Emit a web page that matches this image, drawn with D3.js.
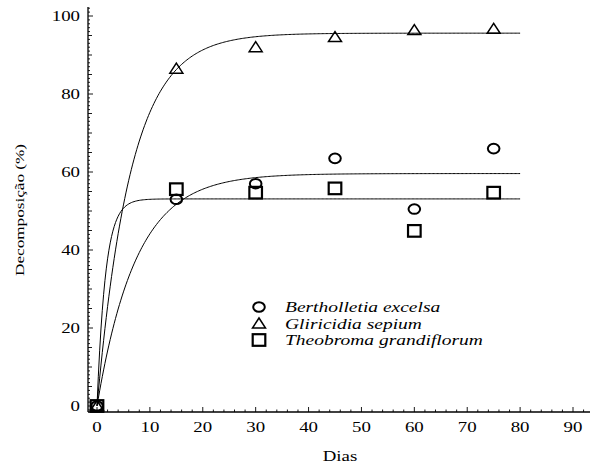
<!DOCTYPE html>
<html><head><meta charset="utf-8">
<script src="https://cdn.jsdelivr.net/npm/d3@7"></script>
<style>body{margin:0;background:#fff}svg{display:block}</style>
</head><body><svg id="c" width="590" height="466"></svg>
<script>
const days = [0, 15, 30, 45, 60, 75];
const bertholletia = [0, 53, 57, 63.5, 50.5, 66];
const gliricidia = [0, 86.5, 92, 94.6, 96.4, 96.7];
const theobroma = [0, 55.6, 54.7, 55.8, 44.9, 54.7];
// fitted model parameters (asymptote, rate)
const fitAsym = [59.6, 95.6, 53.1];
const fitRate = [0.135, 0.155, 0.62];
const seriesNames = ["Bertholletia excelsa", "Gliricidia sepium", "Theobroma grandiflorum"];
const xTicks = [0,10,20,30,40,50,60,70,80,90];
const yTicks = [0,20,40,60,80,100];

const FONT = "'Liberation Serif', 'Times New Roman', serif";
const svg = d3.select("#c");
const x = d3.scaleLinear().domain([0, 90]).range([97, 573]);
const y = d3.scaleLinear().domain([0, 100]).range([406, 16]);
const axLeft = 88, axBottom = 412, axTop = 7, axRight = 590;
const SX = 1.3;

function label(g, px, py, txt, anchor, size, italic){
  const t = g.append("g").attr("transform", `translate(${px},${py}) scale(${SX},1)`)
    .append("text").attr("text-anchor", anchor).attr("font-size", size).attr("font-family", FONT)
    .style("font-family", FONT).attr("fill","#000").text(txt);
  if (italic) t.attr("font-style","italic");
  return t;
}

const ax = svg.append("g");
ax.append("line").attr("x1",axLeft).attr("x2",axLeft).attr("y1",axTop).attr("y2",axBottom).attr("stroke","#000").attr("stroke-width",1.3);
ax.append("line").attr("x1",axLeft).attr("x2",axRight).attr("y1",axBottom).attr("y2",axBottom).attr("stroke","#000").attr("stroke-width",1.3);
// y ticks
d3.range(-1, 103, 1).forEach(v => {
  const len = v % 20 === 0 ? 5 : (v % 5 === 0 ? 4 : 2);
  ax.append("line").attr("x1",axLeft).attr("x2",axLeft+len).attr("y1",y(v)).attr("y2",y(v)).attr("stroke","#000").attr("stroke-width",0.9);
});
yTicks.forEach(v => label(ax, 80, y(v)+5, String(v), "end", 14.5));
// x ticks
d3.range(0, 94, 2).forEach(v => {
  const len = v % 10 === 0 ? 5 : 2.5;
  ax.append("line").attr("x1",x(v)).attr("x2",x(v)).attr("y1",axBottom).attr("y2",axBottom-len).attr("stroke","#000").attr("stroke-width",0.9);
});
xTicks.forEach(v => label(ax, x(v), 432, String(v), "middle", 14.5));
label(ax, 340, 461, "Dias", "middle", 14.5);
svg.append("g").attr("transform","translate(24,210) rotate(-90) scale(1.32,1)")
  .append("text").attr("text-anchor","middle").attr("font-size",13).attr("font-family",FONT).style("font-family",FONT).text("Decomposição (%)");

// fitted curves
const xs = d3.range(0, 80.01, 0.25);
const line = d3.line().x(d => x(d[0])).y(d => y(d[1]));
fitAsym.forEach((a, i) => {
  svg.append("path").attr("d", line(xs.map(t => [t, a*(1-Math.exp(-fitRate[i]*t))])))
    .attr("fill","none").attr("stroke","#000").attr("stroke-width",1);
});

function circ(g, cx, cy){ g.append("ellipse").attr("cx",cx).attr("cy",cy).attr("rx",5.8).attr("ry",4.8).attr("fill","none").attr("stroke","#000").attr("stroke-width",2); }
function tri(g, cx, cy){ g.append("path").attr("d",`M${cx-6.5},${cy+4.5}L${cx+6.5},${cy+4.5}L${cx},${cy-5.5}Z`).attr("fill","none").attr("stroke","#000").attr("stroke-width",1.5); }
function sq(g, cx, cy){ g.append("rect").attr("x",cx-6.3).attr("y",cy-5.8).attr("width",12.6).attr("height",11.6).attr("fill","none").attr("stroke","#000").attr("stroke-width",2.2); }

const pts = svg.append("g");
days.forEach((d,i) => circ(pts, x(d), y(bertholletia[i])));
days.forEach((d,i) => tri(pts, x(d), y(gliricidia[i])));
days.forEach((d,i) => sq(pts, x(d), y(theobroma[i])));

// legend
const lg = svg.append("g");
const markers = [circ, tri, sq];
seriesNames.forEach((n,i) => {
  const ly = 307 + i*16.5;
  markers[i](lg, 259, ly);
  label(lg, 285, ly+5, n, "start", 15, true);
});
</script></body></html>
